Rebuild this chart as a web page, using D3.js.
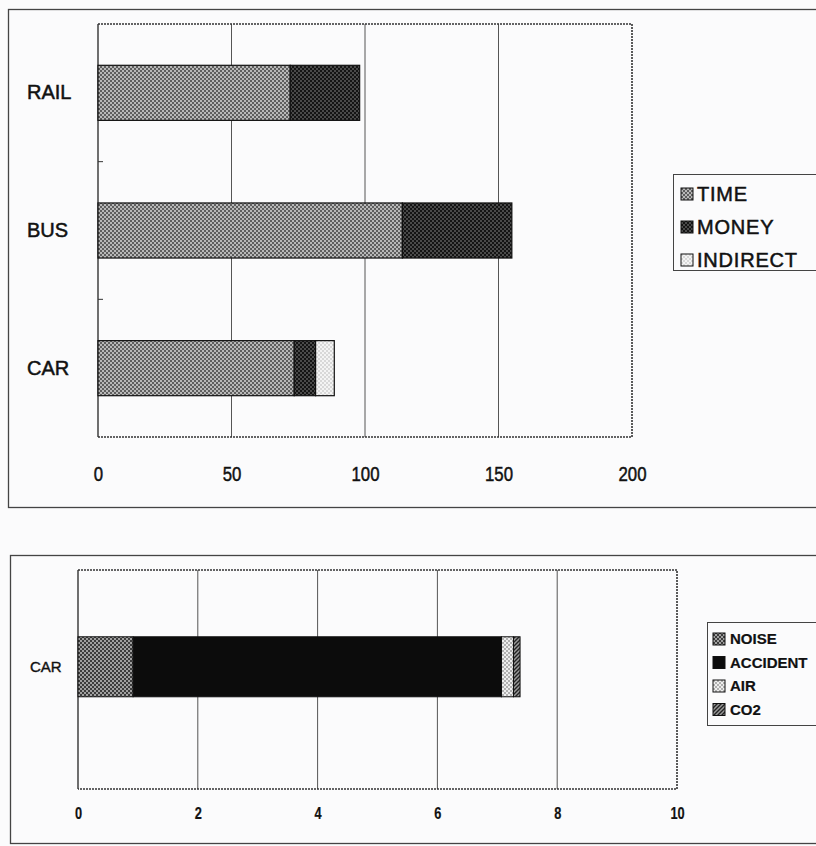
<!DOCTYPE html>
<html><head><meta charset="utf-8">
<script src="https://cdn.jsdelivr.net/npm/d3@7"></script>
<style>
html,body{margin:0;padding:0;background:#fbfbfc;}
svg{display:block;font-family:"Liberation Sans",Arial,sans-serif;}
</style></head>
<body>
<svg id="c" width="816" height="846"></svg>
<script>
// ---- Data: top chart ----
const modes = ["RAIL", "BUS", "CAR"];
const topSeries = ["TIME", "MONEY", "INDIRECT"];
const timeCost = [72, 114, 73.5];
const moneyCost = [26, 41, 8];
const indirectCost = [0, 0, 7];
const topTicks = [0, 50, 100, 150, 200];

// ---- Data: bottom chart ----
const carCategory = ["CAR"];
const bottomSeries = ["NOISE", "ACCIDENT", "AIR", "CO2"];
const noiseCost = [0.92];
const accidentCost = [6.15];
const airCost = [0.2];
const co2Cost = [0.11];
const bottomTicks = [0, 2, 4, 6, 8, 10];

const svg = d3.select("#c");
const defs = svg.append("defs");

function checker(id, a, b, size) {
  const p = defs.append("pattern").attr("id", id).attr("patternUnits", "userSpaceOnUse")
    .attr("width", size * 2).attr("height", size * 2);
  p.append("rect").attr("width", size * 2).attr("height", size * 2).attr("fill", a);
  p.append("rect").attr("width", size).attr("height", size).attr("fill", b);
  p.append("rect").attr("x", size).attr("y", size).attr("width", size).attr("height", size).attr("fill", b);
}
checker("pTime", "#5e5e5e", "#b8b8b8", 2);
checker("pMoney", "#141414", "#4a4a4a", 2);
checker("pIndirect", "#f4f4f4", "#d8d8d8", 2);
checker("pNoise", "#3c3c3c", "#a0a0a0", 2);
checker("pAir", "#eeeeee", "#b0b0b0", 2);
(function(){
  const p = defs.append("pattern").attr("id", "pCo2").attr("patternUnits", "userSpaceOnUse")
    .attr("width", 4).attr("height", 4);
  p.append("rect").attr("width", 4).attr("height", 4).attr("fill", "#9a9a9a");
  p.append("path").attr("d", "M0,4 L4,0 M-1,1 L1,-1 M3,5 L5,3").attr("stroke", "#222").attr("stroke-width", 1.4);
})();

const topFills = {TIME: "url(#pTime)", MONEY: "url(#pMoney)", INDIRECT: "url(#pIndirect)"};
const botFills = {NOISE: "url(#pNoise)", ACCIDENT: "#0c0c0c", AIR: "url(#pAir)", CO2: "url(#pCo2)"};

function thick(sel, w) { sel.attr("stroke", "#111").attr("stroke-width", w).attr("fill", "#111"); }

// ================= TOP CHART =================
svg.append("rect").attr("x", 8.5).attr("y", 9.5).attr("width", 830).attr("height", 498)
  .attr("fill", "none").attr("stroke", "#444").attr("stroke-width", 1.3);

const tp = {left: 98, right: 632, top: 24, bottom: 437};
const xT = d3.scaleLinear().domain([0, 200]).range([tp.left, tp.right]);
const yT = d3.scaleBand().domain(modes).range([tp.top, tp.bottom]).paddingInner(0.6).paddingOuter(0.3);

const gT = svg.append("g");
gT.selectAll("line.grid").data(topTicks.slice(1, -1)).join("line")
  .attr("x1", d => xT(d)).attr("x2", d => xT(d)).attr("y1", tp.top).attr("y2", tp.bottom)
  .attr("stroke", "#555").attr("stroke-width", 1);

gT.append("path")
  .attr("d", `M${tp.left},${tp.top}H${tp.right}V${tp.bottom}H${tp.left}`)
  .attr("fill", "none").attr("stroke", "#333").attr("stroke-width", 1.6).attr("stroke-dasharray", "2,1");
gT.append("line").attr("x1", tp.left).attr("x2", tp.left).attr("y1", tp.top).attr("y2", tp.bottom)
  .attr("stroke", "#333").attr("stroke-width", 1.4);

const bTop = modes.slice(1).map(m => yT(m) - yT.step() * yT.paddingInner() / 2);
gT.selectAll("line.yt").data(bTop).join("line")
  .attr("x1", tp.left).attr("x2", tp.left + 5).attr("y1", d => d).attr("y2", d => d)
  .attr("stroke", "#333").attr("stroke-width", 1);

const topRows = modes.map((m, i) => ({mode: m, TIME: timeCost[i], MONEY: moneyCost[i], INDIRECT: indirectCost[i]}));
const stTop = d3.stack().keys(topSeries)(topRows);
stTop.forEach(layer => {
  gT.selectAll(null).data(layer.filter(d => d[1] > d[0])).join("rect")
    .attr("x", d => xT(d[0])).attr("width", d => xT(d[1]) - xT(d[0]))
    .attr("y", d => yT(d.data.mode)).attr("height", yT.bandwidth())
    .attr("fill", topFills[layer.key]).attr("stroke", "#111").attr("stroke-width", 1.2);
});

// x axis labels
const axT = d3.axisBottom(xT).tickValues(topTicks).tickSize(0).tickPadding(29).tickFormat(d3.format("d"));
const axTg = svg.append("g").attr("transform", `translate(0,${tp.bottom})`).call(axT);
axTg.select(".domain").remove();
axTg.selectAll("text").attr("font-size", 21).attr("transform", "scale(0.8,1)").call(thick, 0.5);

// y axis labels (left aligned)
const ayT = d3.axisLeft(yT).tickSize(0).tickPadding(0);
const ayTg = svg.append("g").attr("transform", `translate(27,0)`).call(ayT);
ayTg.select(".domain").remove();
ayTg.selectAll("text").attr("text-anchor", "start").attr("x", 0).attr("font-size", 20).call(thick, 0.5);

// legend top
const lgT = svg.append("g").attr("transform", "translate(673,174)");
lgT.append("rect").attr("x", 0.5).attr("y", 0.5).attr("width", 150).attr("height", 96)
  .attr("fill", "none").attr("stroke", "#444").attr("stroke-width", 1);
topSeries.forEach((s, i) => {
  const yy = 20 + i * 33;
  lgT.append("rect").attr("x", 8).attr("y", yy - 6).attr("width", 12).attr("height", 12)
    .attr("fill", topFills[s]).attr("stroke", "#111").attr("stroke-width", 1);
  lgT.append("text").attr("x", 24).attr("y", yy).attr("dy", "0.36em")
    .attr("font-size", 20).attr("letter-spacing", 0.8).call(thick, 0.5).text(s);
});

// ================= BOTTOM CHART =================
svg.append("rect").attr("x", 10.5).attr("y", 555.5).attr("width", 830).attr("height", 288)
  .attr("fill", "none").attr("stroke", "#444").attr("stroke-width", 1.3);

const bp = {left: 78, right: 677, top: 570, bottom: 789};
const xB = d3.scaleLinear().domain([0, 10]).range([bp.left, bp.right]);
const yB = d3.scaleBand().domain(carCategory).range([bp.top, bp.bottom]).paddingInner(0).paddingOuter(1.325).align(0.42);

const gB = svg.append("g");
gB.selectAll("line.grid").data(bottomTicks.slice(1, -1)).join("line")
  .attr("x1", d => xB(d)).attr("x2", d => xB(d)).attr("y1", bp.top).attr("y2", bp.bottom)
  .attr("stroke", "#555").attr("stroke-width", 1);
gB.append("path")
  .attr("d", `M${bp.left},${bp.top}H${bp.right}V${bp.bottom}H${bp.left}`)
  .attr("fill", "none").attr("stroke", "#333").attr("stroke-width", 1.6).attr("stroke-dasharray", "2,1");
gB.append("line").attr("x1", bp.left).attr("x2", bp.left).attr("y1", bp.top).attr("y2", bp.bottom)
  .attr("stroke", "#333").attr("stroke-width", 1.4);

const botRows = carCategory.map((c, i) => ({cat: c, NOISE: noiseCost[i], ACCIDENT: accidentCost[i], AIR: airCost[i], CO2: co2Cost[i]}));
const stBot = d3.stack().keys(bottomSeries)(botRows);
stBot.forEach(layer => {
  gB.selectAll(null).data(layer).join("rect")
    .attr("x", d => xB(d[0])).attr("width", d => xB(d[1]) - xB(d[0]))
    .attr("y", d => yB(d.data.cat)).attr("height", yB.bandwidth())
    .attr("fill", botFills[layer.key]).attr("stroke", "#111").attr("stroke-width", 1);
});

const axB = d3.axisBottom(xB).tickValues(bottomTicks).tickSize(0).tickPadding(19).tickFormat(d3.format("d"));
const axBg = svg.append("g").attr("transform", `translate(0,${bp.bottom})`).call(axB);
axBg.select(".domain").remove();
axBg.selectAll("text").attr("font-size", 16).attr("font-weight", "bold").attr("transform", "scale(0.8,1)").call(thick, 0.2);

const ayB = d3.axisLeft(yB).tickSize(0).tickPadding(0);
const ayBg = svg.append("g").attr("transform", `translate(30,0)`).call(ayB);
ayBg.select(".domain").remove();
ayBg.selectAll("text").attr("text-anchor", "start").attr("x", 0).attr("font-size", 15).call(thick, 0.4);

const lgB = svg.append("g").attr("transform", "translate(707,622)");
lgB.append("rect").attr("x", 0.5).attr("y", 0.5).attr("width", 130).attr("height", 103)
  .attr("fill", "none").attr("stroke", "#444").attr("stroke-width", 1);
bottomSeries.forEach((s, i) => {
  const yy = 17 + i * 23.5;
  lgB.append("rect").attr("x", 6).attr("y", yy - 6).attr("width", 12).attr("height", 12)
    .attr("fill", botFills[s]).attr("stroke", "#111").attr("stroke-width", 1);
  lgB.append("text").attr("x", 23).attr("y", yy).attr("dy", "0.36em")
    .attr("font-size", 15).attr("font-weight", "bold").call(thick, 0.2).text(s);
});
</script>
</body></html>
